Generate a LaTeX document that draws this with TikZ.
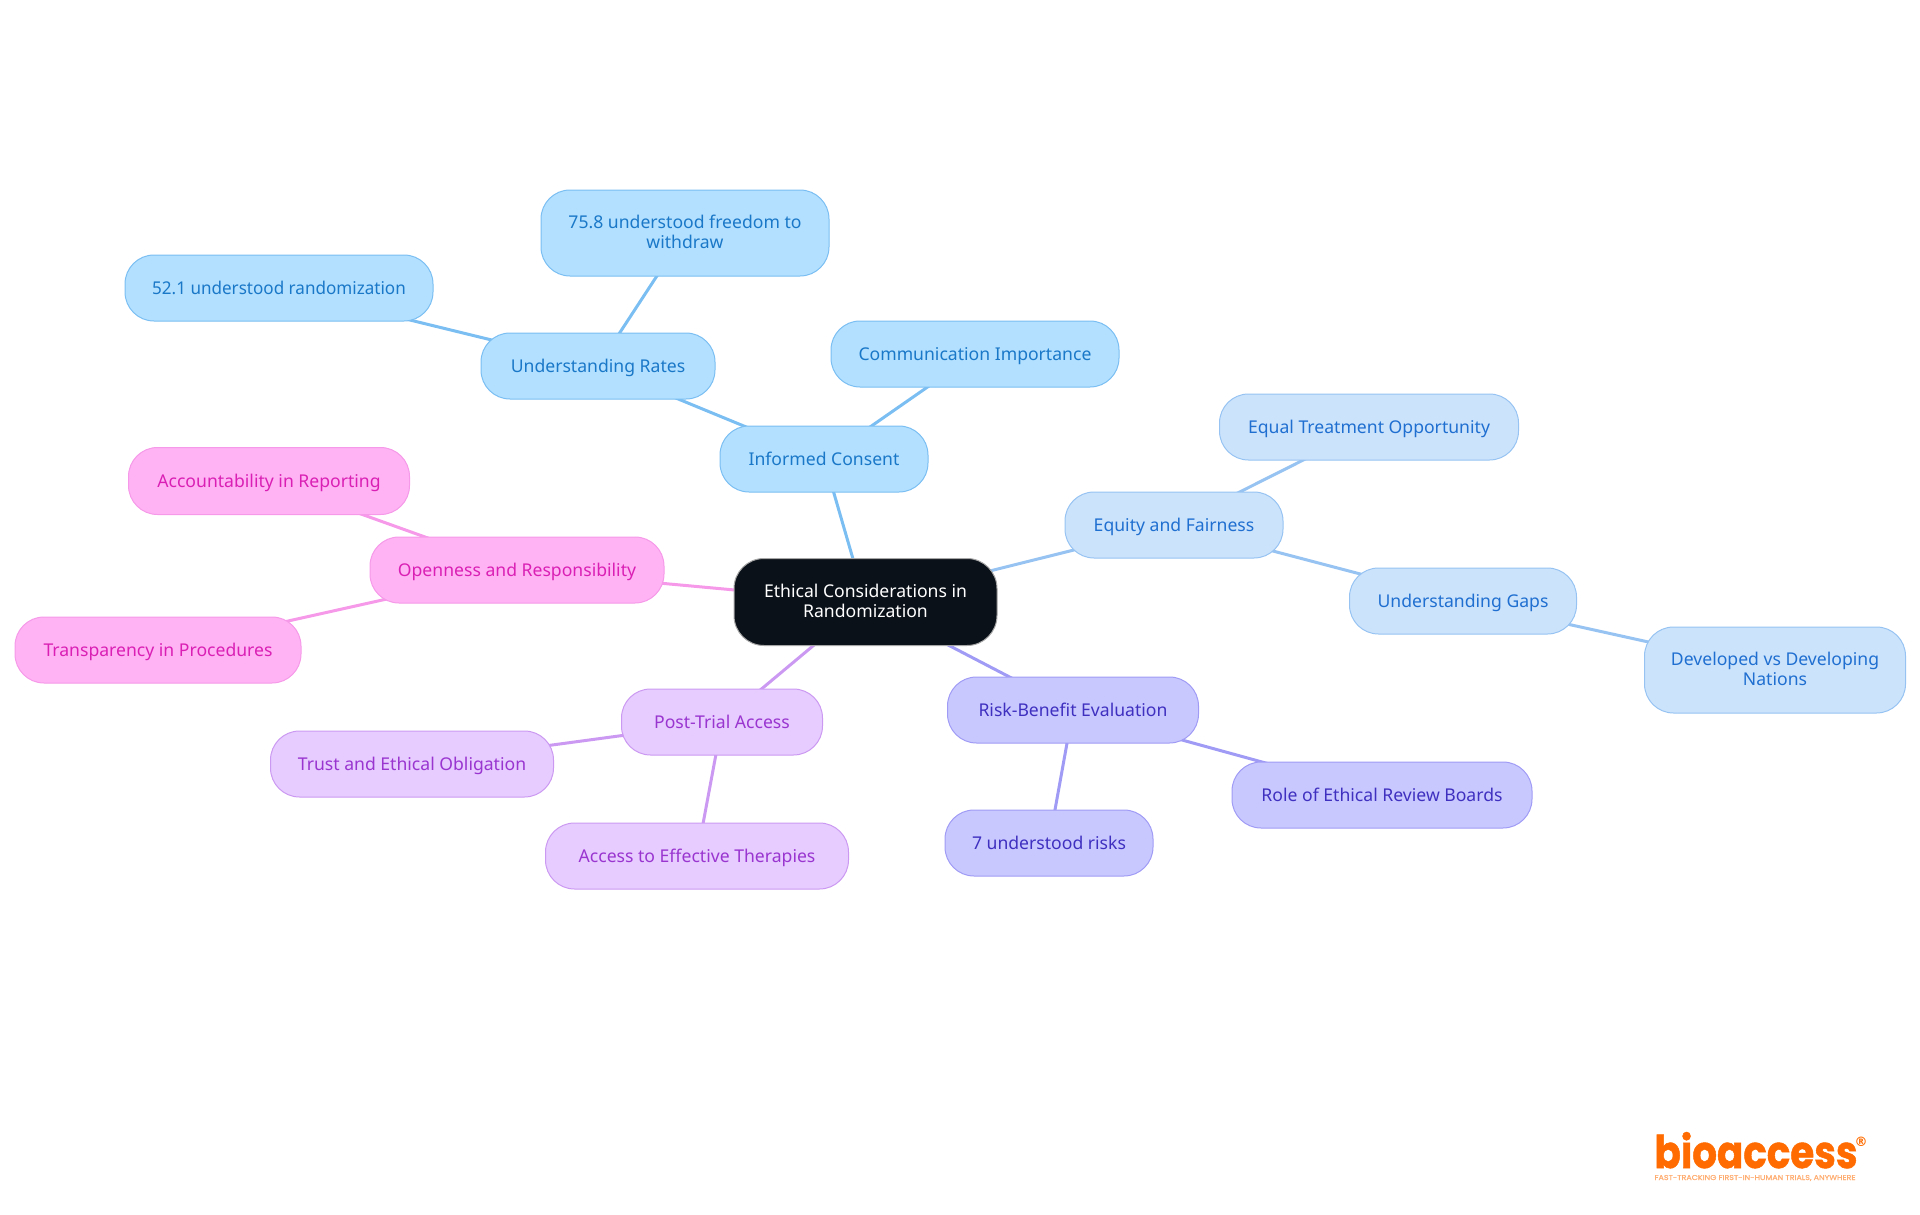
\documentclass[tikz,border=0pt]{standalone}
\usepackage{fontspec}
\setmainfont{Noto Sans}
\newfontfamily\logofont[FakeBold=1.2]{Poppins}
\newfontfamily\regfont{DejaVu Sans}
\definecolor{blueA}{HTML}{B3E0FF}\definecolor{blueAl}{HTML}{7ABEF2}\definecolor{blueAt}{HTML}{1A78C8}
\definecolor{blueB}{HTML}{CCE3FC}\definecolor{blueBl}{HTML}{96C3F2}\definecolor{blueBt}{HTML}{1F6FD0}
\definecolor{viol}{HTML}{C8C8FF}\definecolor{violl}{HTML}{A09BF5}\definecolor{violt}{HTML}{4030C0}
\definecolor{purp}{HTML}{E6CCFF}\definecolor{purpl}{HTML}{CC99F2}\definecolor{purpt}{HTML}{9A35D0}
\definecolor{pink}{HTML}{FFB3F5}\definecolor{pinkl}{HTML}{F599E8}\definecolor{pinkt}{HTML}{DA20B4}
\definecolor{rootfill}{HTML}{0B1119}\definecolor{logoorange}{HTML}{FF6B00}
\tikzset{
 base/.style={draw,line width=1pt,rounded corners=29pt,align=center,inner sep=0pt,outer sep=0pt,font=\fontsize{17.6}{20.5}\selectfont},
 wh/.style n args={2}{minimum width=#1 pt,minimum height=#2 pt},
 sl/.style={text height=15pt,text depth=3pt},
 ml/.style={text depth=2pt},
 root/.style={base,fill=rootfill,draw=gray!70,text=white,rounded corners=30pt},
 na/.style={base,fill=blueA,draw=blueAl,text=blueAt},
 nb/.style={base,fill=blueB,draw=blueBl,text=blueBt},
 nc/.style={base,fill=viol,draw=violl,text=violt},
 nd/.style={base,fill=purp,draw=purpl,text=purpt},
 ne/.style={base,fill=pink,draw=pinkl,text=pinkt},
 ea/.style={line width=3pt,draw=blueAl},
 eb/.style={line width=3pt,draw=blueBl},
 ec/.style={line width=3pt,draw=violl},
 ed/.style={line width=3pt,draw=purpl},
 ee/.style={line width=3pt,draw=pinkl},
}
\begin{document}
\begin{tikzpicture}[x=1pt,y=-1pt]
\useasboundingbox (0,0) rectangle (1920,1215);
\pgfdeclarelayer{bg}\pgfsetlayers{bg,main}
\node[root,ml,wh={263}{87}] (root) at (865.5,602) {Ethical Considerations in\\Randomization};
\node[na,sl,wh={208}{66}] (ic) at (824,459) {Informed Consent};
\node[na,sl,wh={234}{66}] (ur) at (598,366) {Understanding Rates};
\node[na,ml,wh={288}{86}] (fw) at (685,233) {75.8 understood freedom to\\withdraw};
\node[na,sl,wh={308}{66}] (ra) at (279,288) {\scalebox{0.97}[1]{52.1 understood randomization}};
\node[na,sl,wh={288}{66}] (ci) at (975,354) {Communication Importance};
\node[nb,sl,wh={218}{66}] (ef) at (1174,525) {Equity and Fairness};
\node[nb,sl,wh={299}{66}] (et) at (1369,427) {Equal Treatment Opportunity};
\node[nb,sl,wh={227}{66}] (ug) at (1463,601) {Understanding Gaps};
\node[nb,ml,wh={261}{86}] (dv) at (1775,670) {Developed vs Developing\\Nations};
\node[nc,sl,wh={251}{66}] (rb) at (1073,710) {Risk-Benefit Evaluation};
\node[nc,sl,wh={300}{66}] (rr) at (1382,795) {Role of Ethical Review Boards};
\node[nc,sl,wh={208}{66}] (ri) at (1049,843) {7 understood risks};
\node[nd,sl,wh={201}{66}] (pt) at (722,722) {Post-Trial Access};
\node[nd,sl,wh={283}{66}] (tr) at (412,764) {Trust and Ethical Obligation};
\node[nd,sl,wh={303}{66}] (ac) at (697,856) {Access to Effective Therapies};
\node[ne,sl,wh={294}{66}] (op) at (517,570) {Openness and Responsibility};
\node[ne,sl,wh={281}{67}] (au) at (269,481) {Accountability in Reporting};
\node[ne,sl,wh={286}{66}] (tp) at (158,650) {Transparency in Procedures};
\begin{pgfonlayer}{bg}
\draw[ea] (root.center) -- (ic.center);
\draw[ea] (ic.center) -- (ur.center);
\draw[ea] (ic.center) -- (ci.center);
\draw[ea] (ur.center) -- (fw.center);
\draw[ea] (ur.center) -- (ra.center);
\draw[eb] (root.center) -- (ef.center);
\draw[eb] (ef.center) -- (et.center);
\draw[eb] (ef.center) -- (ug.center);
\draw[eb] (ug.center) -- (dv.center);
\draw[ec] (root.center) -- (rb.center);
\draw[ec] (rb.center) -- (rr.center);
\draw[ec] (rb.center) -- (ri.center);
\draw[ed] (root.center) -- (pt.center);
\draw[ed] (pt.center) -- (tr.center);
\draw[ed] (pt.center) -- (ac.center);
\draw[ee] (root.center) -- (op.center);
\draw[ee] (op.center) -- (au.center);
\draw[ee] (op.center) -- (tp.center);
\end{pgfonlayer}
% logo
\node[inner sep=0pt,anchor=base,text=logoorange] (logo) at (1756,1168) {\resizebox{203pt}{36pt}{\logofont\bfseries bioaccess}};
\node[inner sep=0pt,text=logoorange] (reg) at (1861,1142) {\fontsize{13}{13}\selectfont\regfont\bfseries ®};
\node[inner sep=0pt,anchor=base,text=logoorange!55] (tag) at (1755,1180) {\resizebox{201pt}{5pt}{\logofont FAST-TRACKING FIRST-IN-HUMAN TRIALS, ANYWHERE}};
\end{tikzpicture}
\end{document}
